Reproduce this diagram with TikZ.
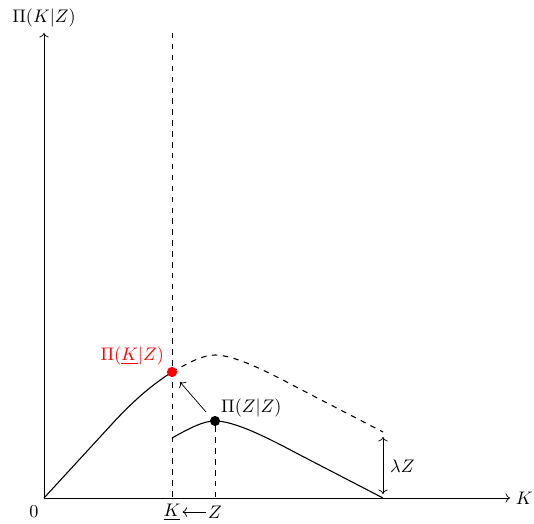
\documentclass[tikz,border=0pt]{standalone}
\usetikzlibrary{arrows.meta}
\begin{document}
\begin{tikzpicture}[x=0.55pt,y=-0.55pt,
  axisline/.style={->},
  guide/.style={dashed},
  curve/.style={line width=0.6pt},
  dot/.style={circle, fill=#1, inner sep=0pt, minimum size=5.6pt},
  lbl/.style={inner sep=1pt}]
\useasboundingbox (0,0) rectangle (534,524);
% coordinates
\coordinate (O) at (44,498);
\coordinate (ytop) at (44,33);
\coordinate (xend) at (510,498);
\coordinate (kt) at (172,33);
\coordinate (kb) at (172,498);
\coordinate (zb) at (215,498);
% axes
\draw[axisline] (O) -- (ytop) node[lbl, above, yshift=2pt] (ylab) {$\Pi(K|Z)$};
\draw[axisline] (O) -- (xend) node[lbl, right, xshift=2pt] (xlab) {$K$};
\node[lbl] (zero) at (34,512) {$0$};
% dashed guide at underline K
\draw[guide] (kt) -- (kb);
% upper solid curve
\draw[curve] (44,498) -- (112,424) .. controls (135,399) and (152,385) .. (172,372);
% dashed continuation
\draw[guide, curve] (172,372) .. controls (190,362) and (203,355) .. (215,355)
  .. controls (235,355) and (268,372) .. (300,389) -- (383,432);
% lower solid curve (shifted by lambda Z)
\begin{scope}[shift={(0,66)}]
\draw[curve] (172,372) .. controls (190,362) and (203,355) .. (215,355)
  .. controls (235,355) and (268,372) .. (300,389) -- (383,432);
\end{scope}
% points
\node[dot=red] (red) at (172,372) {};
\node[dot=black] (blk) at (215,421) {};
\draw[guide] (blk) -- (zb);
% labels
\node[lbl, red, anchor=east] (redlab) at (166,356) {$\Pi(\underline{K}|Z)$};
\node[lbl, anchor=west] (blklab) at (219,408) {$\Pi(Z|Z)$};
% arrow from black to red
\coordinate (a1) at (206,412);
\coordinate (a2) at (180,382);
\draw[->] (a1) -- (a2);
% lambda Z
\coordinate (l1) at (383,437);
\coordinate (l2) at (383,494);
\draw[<->] (l1) -- (l2);
\node[lbl, anchor=west] (lz) at (388,466) {$\lambda Z$};
% bottom labels
\node[lbl] (klab) at (172,512) {$\underline{K}$};
\node[lbl] (zlab) at (215,512) {$Z$};
\draw[->] (zlab.west) -- (klab.east);
\end{tikzpicture}
\end{document}
